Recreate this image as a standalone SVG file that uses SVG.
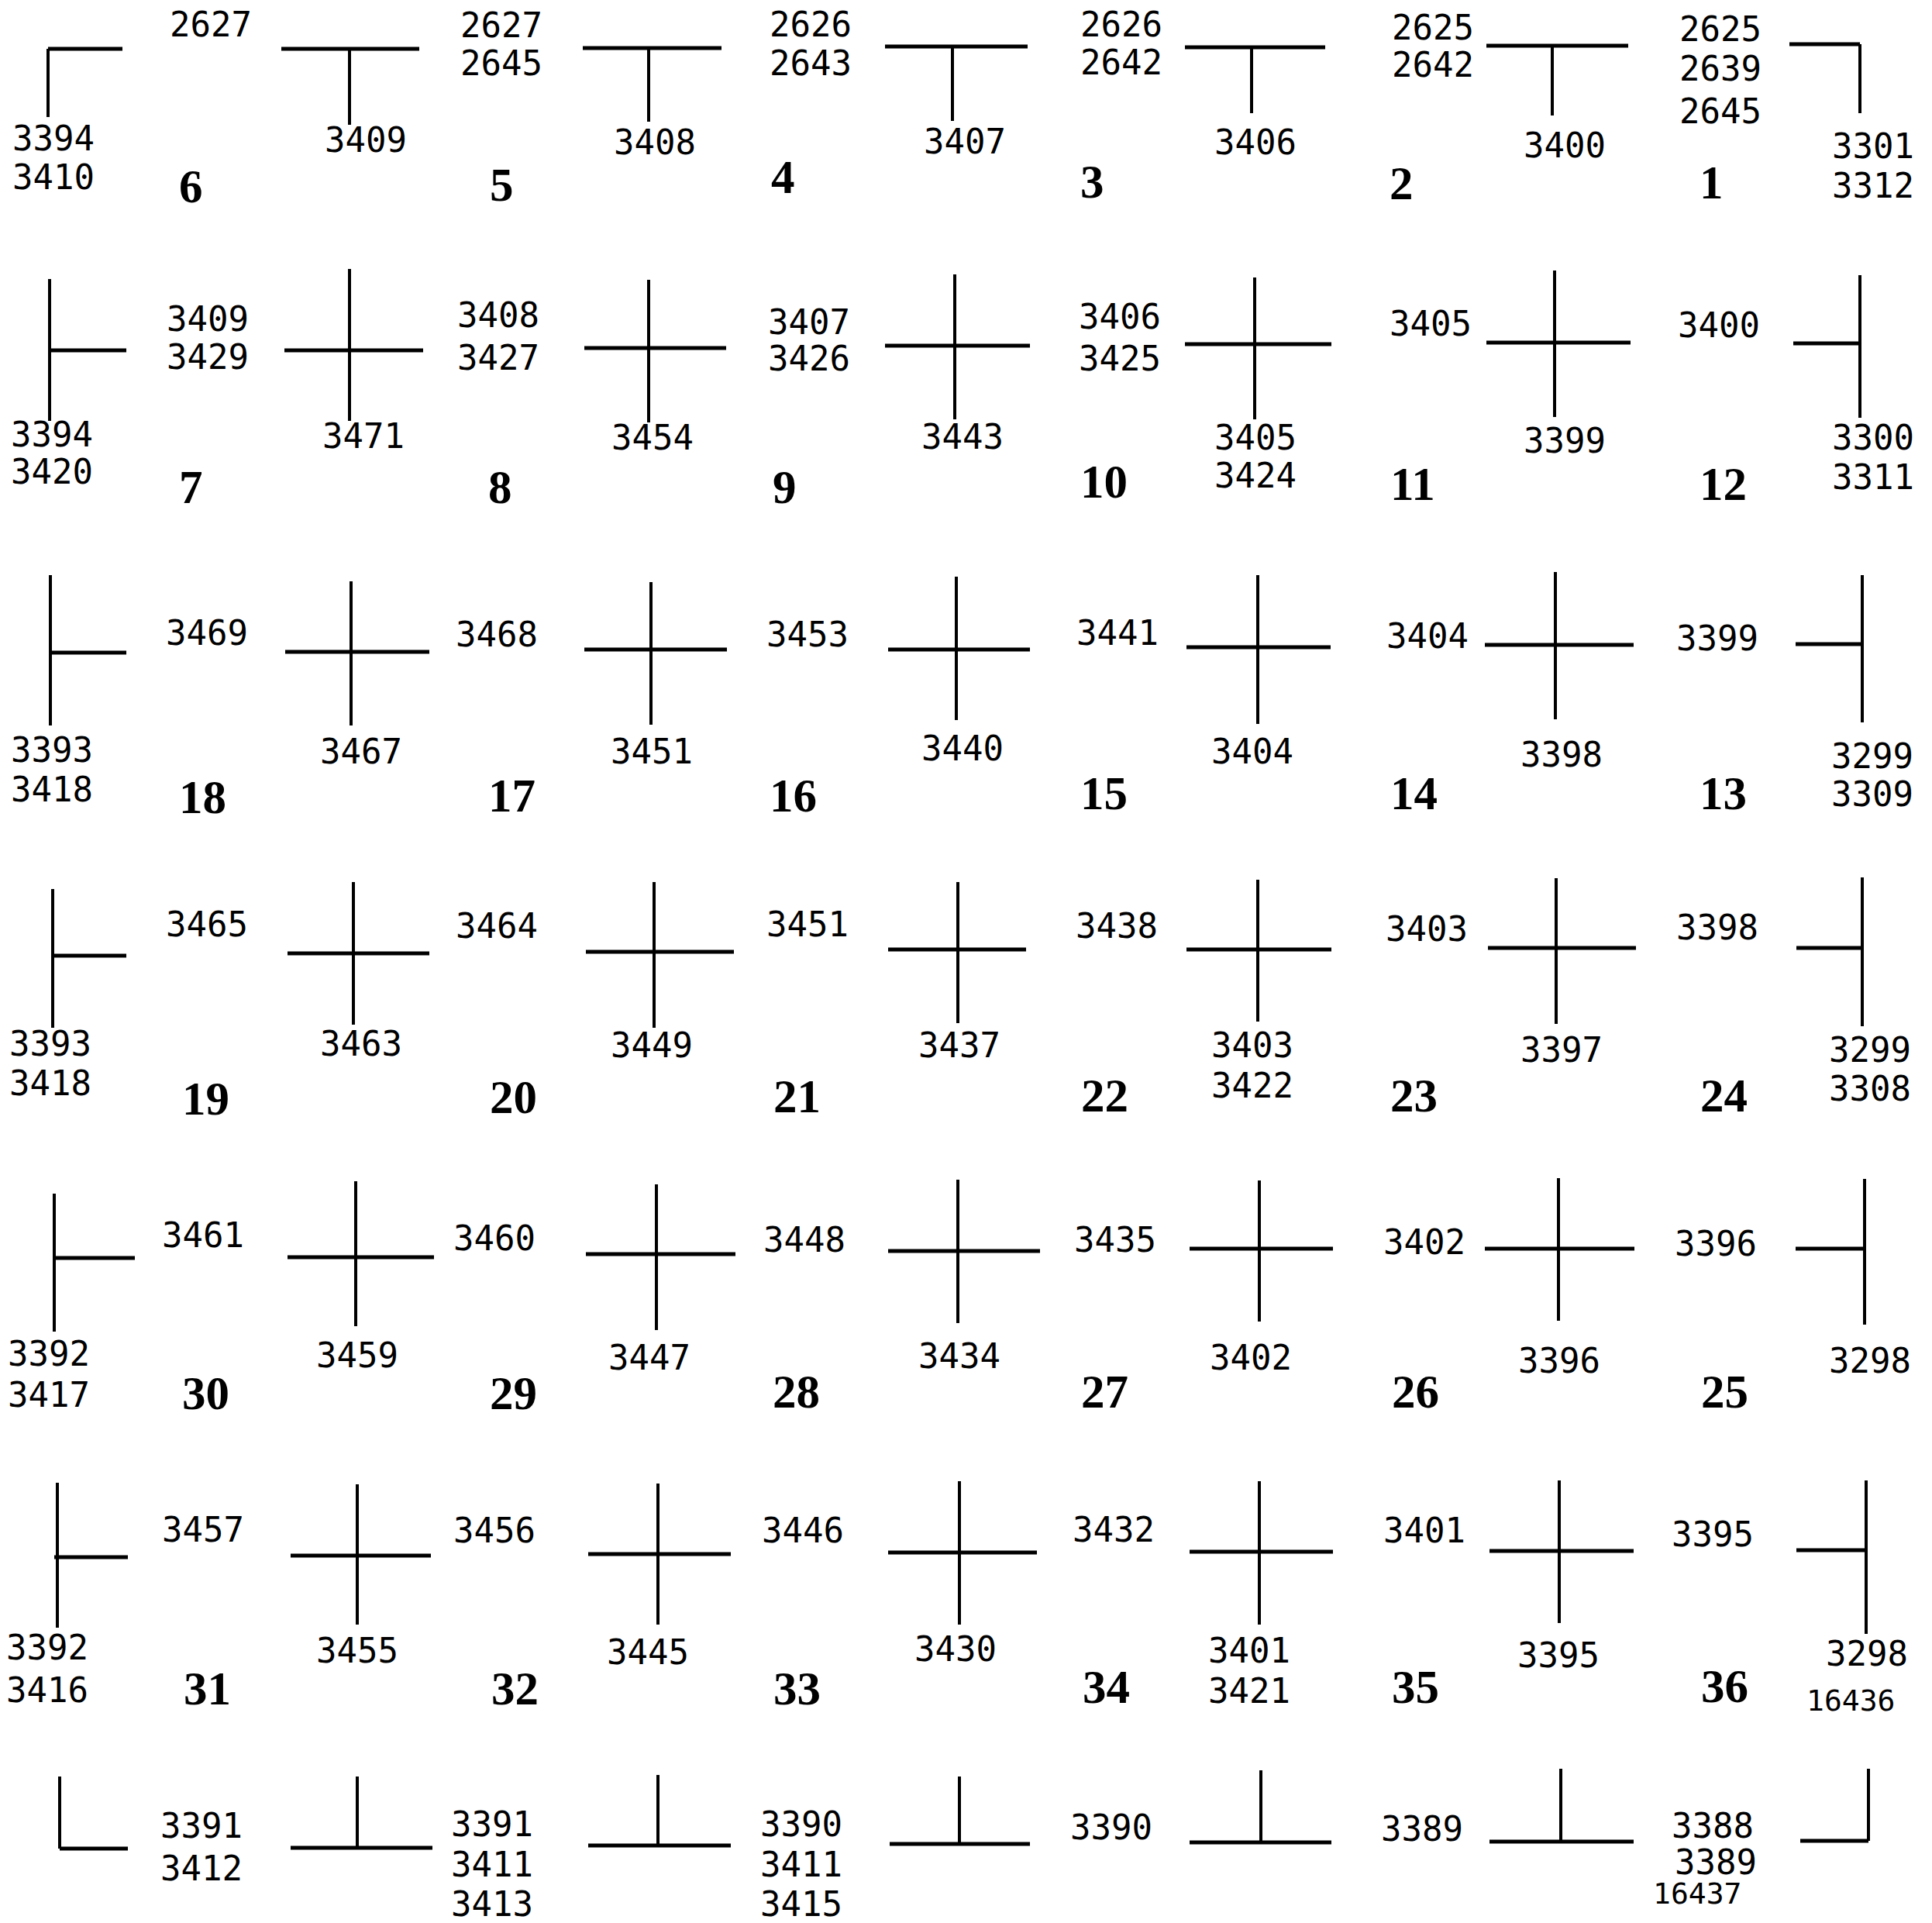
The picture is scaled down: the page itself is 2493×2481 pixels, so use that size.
<svg xmlns="http://www.w3.org/2000/svg" width="2493" height="2481" viewBox="0 0 2493 2481">
<style>
.bg{fill:#fff}
.h{stroke:#000;stroke-width:5;fill:none;stroke-linecap:butt}
.v{stroke:#000;stroke-width:4;fill:none;stroke-linecap:butt}
.n{font-family:"DejaVu Sans Mono","Liberation Mono",monospace;font-size:44px;fill:#000}
.s{font-family:"DejaVu Sans Mono","Liberation Mono",monospace;font-size:38px;fill:#000}
.sec{font-family:"Liberation Serif","Times New Roman",serif;font-weight:bold;font-size:61px;fill:#000}
</style>
<rect class="bg" x="0" y="0" width="2493" height="2481"/>
<g id="grid">
<g id="c1-1"><path class="h" d="M62 63H158"/><path class="v" d="M62 63V151"/></g>
<g id="c1-2"><path class="h" d="M363 63H541"/><path class="v" d="M451 63V161"/></g>
<g id="c1-3"><path class="h" d="M752 62H931"/><path class="v" d="M837 62V157"/></g>
<g id="c1-4"><path class="h" d="M1142 60H1326"/><path class="v" d="M1229 60V156"/></g>
<g id="c1-5"><path class="h" d="M1529 61H1710"/><path class="v" d="M1615 61V146"/></g>
<g id="c1-6"><path class="h" d="M1918 59H2101"/><path class="v" d="M2003 59V149"/></g>
<g id="c1-7"><path class="h" d="M2309 57H2400"/><path class="v" d="M2400 57V146"/></g>
<g id="c2-1"><path class="h" d="M64 452H163"/><path class="v" d="M64 360V543"/></g>
<g id="c2-2"><path class="h" d="M367 452H546"/><path class="v" d="M451 347V543"/></g>
<g id="c2-3"><path class="h" d="M754 449H937"/><path class="v" d="M837 361V545"/></g>
<g id="c2-4"><path class="h" d="M1142 446H1329"/><path class="v" d="M1232 354V541"/></g>
<g id="c2-5"><path class="h" d="M1529 444H1718"/><path class="v" d="M1619 358V541"/></g>
<g id="c2-6"><path class="h" d="M1918 442H2104"/><path class="v" d="M2006 349V538"/></g>
<g id="c2-7"><path class="h" d="M2314 443H2400"/><path class="v" d="M2400 355V539"/></g>
<g id="c3-1"><path class="h" d="M65 842H163"/><path class="v" d="M65 742V936"/></g>
<g id="c3-2"><path class="h" d="M368 841H554"/><path class="v" d="M453 750V936"/></g>
<g id="c3-3"><path class="h" d="M754 838H938"/><path class="v" d="M840 751V935"/></g>
<g id="c3-4"><path class="h" d="M1146 838H1329"/><path class="v" d="M1234 744V929"/></g>
<g id="c3-5"><path class="h" d="M1531 835H1717"/><path class="v" d="M1623 742V934"/></g>
<g id="c3-6"><path class="h" d="M1916 832H2108"/><path class="v" d="M2007 738V928"/></g>
<g id="c3-7"><path class="h" d="M2317 831H2403"/><path class="v" d="M2403 742V932"/></g>
<g id="c4-1"><path class="h" d="M68 1233H163"/><path class="v" d="M68 1147V1326"/></g>
<g id="c4-2"><path class="h" d="M371 1230H554"/><path class="v" d="M456 1138V1322"/></g>
<g id="c4-3"><path class="h" d="M756 1228H947"/><path class="v" d="M844 1138V1326"/></g>
<g id="c4-4"><path class="h" d="M1146 1225H1324"/><path class="v" d="M1236 1138V1320"/></g>
<g id="c4-5"><path class="h" d="M1531 1225H1718"/><path class="v" d="M1623 1135V1318"/></g>
<g id="c4-6"><path class="h" d="M1920 1223H2111"/><path class="v" d="M2008 1133V1321"/></g>
<g id="c4-7"><path class="h" d="M2318 1223H2403"/><path class="v" d="M2403 1132V1324"/></g>
<g id="c5-1"><path class="h" d="M70 1623H174"/><path class="v" d="M70 1540V1718"/></g>
<g id="c5-2"><path class="h" d="M371 1622H560"/><path class="v" d="M459 1524V1711"/></g>
<g id="c5-3"><path class="h" d="M756 1618H949"/><path class="v" d="M847 1528V1716"/></g>
<g id="c5-4"><path class="h" d="M1146 1614H1342"/><path class="v" d="M1236 1522V1707"/></g>
<g id="c5-5"><path class="h" d="M1535 1611H1720"/><path class="v" d="M1625 1523V1705"/></g>
<g id="c5-6"><path class="h" d="M1916 1611H2109"/><path class="v" d="M2011 1520V1704"/></g>
<g id="c5-7"><path class="h" d="M2317 1611H2406"/><path class="v" d="M2406 1521V1709"/></g>
<g id="c6-1"><path class="h" d="M70 2009H165"/><path class="v" d="M74 1913V2100"/></g>
<g id="c6-2"><path class="h" d="M375 2007H556"/><path class="v" d="M461 1915V2096"/></g>
<g id="c6-3"><path class="h" d="M759 2005H943"/><path class="v" d="M849 1914V2096"/></g>
<g id="c6-4"><path class="h" d="M1146 2003H1338"/><path class="v" d="M1238 1911V2096"/></g>
<g id="c6-5"><path class="h" d="M1535 2002H1720"/><path class="v" d="M1625 1911V2096"/></g>
<g id="c6-6"><path class="h" d="M1922 2001H2108"/><path class="v" d="M2012 1910V2094"/></g>
<g id="c6-7"><path class="h" d="M2318 2000H2408"/><path class="v" d="M2408 1910V2108"/></g>
<g id="c7-1"><path class="h" d="M77 2385H165"/><path class="v" d="M77 2292V2385"/></g>
<g id="c7-2"><path class="h" d="M375 2384H558"/><path class="v" d="M461 2292V2384"/></g>
<g id="c7-3"><path class="h" d="M759 2381H943"/><path class="v" d="M849 2290V2381"/></g>
<g id="c7-4"><path class="h" d="M1148 2379H1329"/><path class="v" d="M1238 2292V2379"/></g>
<g id="c7-5"><path class="h" d="M1535 2377H1718"/><path class="v" d="M1627 2284V2377"/></g>
<g id="c7-6"><path class="h" d="M1922 2376H2108"/><path class="v" d="M2014 2282V2376"/></g>
<g id="c7-7"><path class="h" d="M2323 2375H2411"/><path class="v" d="M2411 2282V2375"/></g>
</g>
<g id="connectors"></g>
<g id="labels-row1">
<text class="n" x="219" y="47">2627</text>
<text class="n" x="16" y="194">3394</text><text class="n" x="16" y="244">3410</text>
<text class="n" x="419" y="196">3409</text>
<text class="n" x="594" y="48">2627</text><text class="n" x="594" y="97">2645</text>
<text class="n" x="792" y="199">3408</text>
<text class="n" x="993" y="47">2626</text><text class="n" x="993" y="97">2643</text>
<text class="n" x="1192" y="198">3407</text>
<text class="n" x="1394" y="47">2626</text><text class="n" x="1394" y="96">2642</text>
<text class="n" x="1567" y="199">3406</text>
<text class="n" x="1796" y="51">2625</text><text class="n" x="1796" y="99">2642</text>
<text class="n" x="1966" y="203">3400</text>
<text class="n" x="2167" y="53">2625</text><text class="n" x="2167" y="104">2639</text><text class="n" x="2167" y="159">2645</text>
<text class="n" x="2364" y="204">3301</text><text class="n" x="2364" y="255">3312</text>
<text class="sec" x="231" y="261">6</text><text class="sec" x="632" y="259">5</text><text class="sec" x="995" y="249">4</text>
<text class="sec" x="1394" y="255">3</text><text class="sec" x="1793" y="257">2</text><text class="sec" x="2193" y="256">1</text>
</g>
<g id="labels-row2">
<text class="n" x="215" y="427">3409</text><text class="n" x="215" y="476">3429</text>
<text class="n" x="590" y="422">3408</text><text class="n" x="590" y="477">3427</text>
<text class="n" x="991" y="431">3407</text><text class="n" x="991" y="478">3426</text>
<text class="n" x="1392" y="424">3406</text><text class="n" x="1392" y="478">3425</text>
<text class="n" x="1793" y="433">3405</text>
<text class="n" x="2165" y="435">3400</text>
<text class="n" x="14" y="576">3394</text><text class="n" x="14" y="624">3420</text>
<text class="n" x="416" y="578">3471</text>
<text class="n" x="789" y="580">3454</text>
<text class="n" x="1189" y="579">3443</text>
<text class="n" x="1567" y="580">3405</text><text class="n" x="1567" y="629">3424</text>
<text class="n" x="1966" y="584">3399</text>
<text class="n" x="2364" y="580">3300</text><text class="n" x="2364" y="631">3311</text>
<text class="sec" x="231" y="649">7</text><text class="sec" x="630" y="649">8</text><text class="sec" x="997" y="649">9</text>
<text class="sec" x="1394" y="642">10</text><text class="sec" x="1794" y="645">11</text><text class="sec" x="2193" y="645">12</text>
</g>
<g id="labels-row3">
<text class="n" x="214" y="832">3469</text>
<text class="n" x="588" y="834">3468</text>
<text class="n" x="989" y="834">3453</text>
<text class="n" x="1389" y="832">3441</text>
<text class="n" x="1789" y="836">3404</text>
<text class="n" x="2163" y="839">3399</text>
<text class="n" x="14" y="983">3393</text><text class="n" x="14" y="1034">3418</text>
<text class="n" x="413" y="985">3467</text>
<text class="n" x="788" y="985">3451</text>
<text class="n" x="1189" y="981">3440</text>
<text class="n" x="1563" y="985">3404</text>
<text class="n" x="1962" y="989">3398</text>
<text class="n" x="2363" y="991">3299</text><text class="n" x="2363" y="1040">3309</text>
<text class="sec" x="231" y="1049">18</text><text class="sec" x="630" y="1047">17</text><text class="sec" x="993" y="1047">16</text>
<text class="sec" x="1394" y="1044">15</text><text class="sec" x="1794" y="1044">14</text><text class="sec" x="2193" y="1044">13</text>
</g>
<g id="labels-row4">
<text class="n" x="214" y="1208">3465</text>
<text class="n" x="588" y="1210">3464</text>
<text class="n" x="989" y="1208">3451</text>
<text class="n" x="1388" y="1210">3438</text>
<text class="n" x="1788" y="1214">3403</text>
<text class="n" x="2163" y="1212">3398</text>
<text class="n" x="12" y="1362">3393</text><text class="n" x="12" y="1413">3418</text>
<text class="n" x="413" y="1362">3463</text>
<text class="n" x="788" y="1364">3449</text>
<text class="n" x="1185" y="1364">3437</text>
<text class="n" x="1563" y="1364">3403</text><text class="n" x="1563" y="1416">3422</text>
<text class="n" x="1962" y="1370">3397</text>
<text class="n" x="2360" y="1370">3299</text><text class="n" x="2360" y="1420">3308</text>
<text class="sec" x="235" y="1438">19</text><text class="sec" x="632" y="1436">20</text><text class="sec" x="998" y="1435">21</text>
<text class="sec" x="1395" y="1434">22</text><text class="sec" x="1794" y="1434">23</text><text class="sec" x="2194" y="1434">24</text>
</g>
<g id="labels-row5">
<text class="n" x="209" y="1609">3461</text>
<text class="n" x="585" y="1613">3460</text>
<text class="n" x="985" y="1615">3448</text>
<text class="n" x="1386" y="1615">3435</text>
<text class="n" x="1785" y="1618">3402</text>
<text class="n" x="2161" y="1620">3396</text>
<text class="n" x="10" y="1762">3392</text><text class="n" x="10" y="1815">3417</text>
<text class="n" x="408" y="1764">3459</text>
<text class="n" x="785" y="1767">3447</text>
<text class="n" x="1185" y="1765">3434</text>
<text class="n" x="1561" y="1767">3402</text>
<text class="n" x="1959" y="1771">3396</text>
<text class="n" x="2360" y="1771">3298</text>
<text class="sec" x="235" y="1818">30</text><text class="sec" x="632" y="1818">29</text><text class="sec" x="997" y="1816">28</text>
<text class="sec" x="1395" y="1816">27</text><text class="sec" x="1796" y="1816">26</text><text class="sec" x="2195" y="1816">25</text>
</g>
<g id="labels-row6">
<text class="n" x="209" y="1989">3457</text>
<text class="n" x="585" y="1990">3456</text>
<text class="n" x="983" y="1990">3446</text>
<text class="n" x="1384" y="1989">3432</text>
<text class="n" x="1785" y="1990">3401</text>
<text class="n" x="2157" y="1995">3395</text>
<text class="n" x="8" y="2141">3392</text><text class="n" x="8" y="2196">3416</text>
<text class="n" x="408" y="2145">3455</text>
<text class="n" x="783" y="2147">3445</text>
<text class="n" x="1180" y="2143">3430</text>
<text class="n" x="1559" y="2145">3401</text><text class="n" x="1559" y="2197">3421</text>
<text class="n" x="1958" y="2151">3395</text>
<text class="n" x="2356" y="2149">3298</text><text class="s" x="2331" y="2207">16436</text>
<text class="sec" x="237" y="2199">31</text><text class="sec" x="634" y="2199">32</text><text class="sec" x="998" y="2199">33</text>
<text class="sec" x="1397" y="2197">34</text><text class="sec" x="1796" y="2197">35</text><text class="sec" x="2195" y="2196">36</text>
</g>
<g id="labels-row7">
<text class="n" x="207" y="2371">3391</text><text class="n" x="207" y="2426">3412</text>
<text class="n" x="582" y="2369">3391</text><text class="n" x="582" y="2421">3411</text><text class="n" x="582" y="2472">3413</text>
<text class="n" x="981" y="2369">3390</text><text class="n" x="981" y="2421">3411</text><text class="n" x="981" y="2472">3415</text>
<text class="n" x="1381" y="2373">3390</text>
<text class="n" x="1782" y="2375">3389</text>
<text class="n" x="2157" y="2371">3388</text><text class="n" x="2161" y="2418">3389</text><text class="s" x="2133" y="2456">16437</text>
</g>
</svg>
